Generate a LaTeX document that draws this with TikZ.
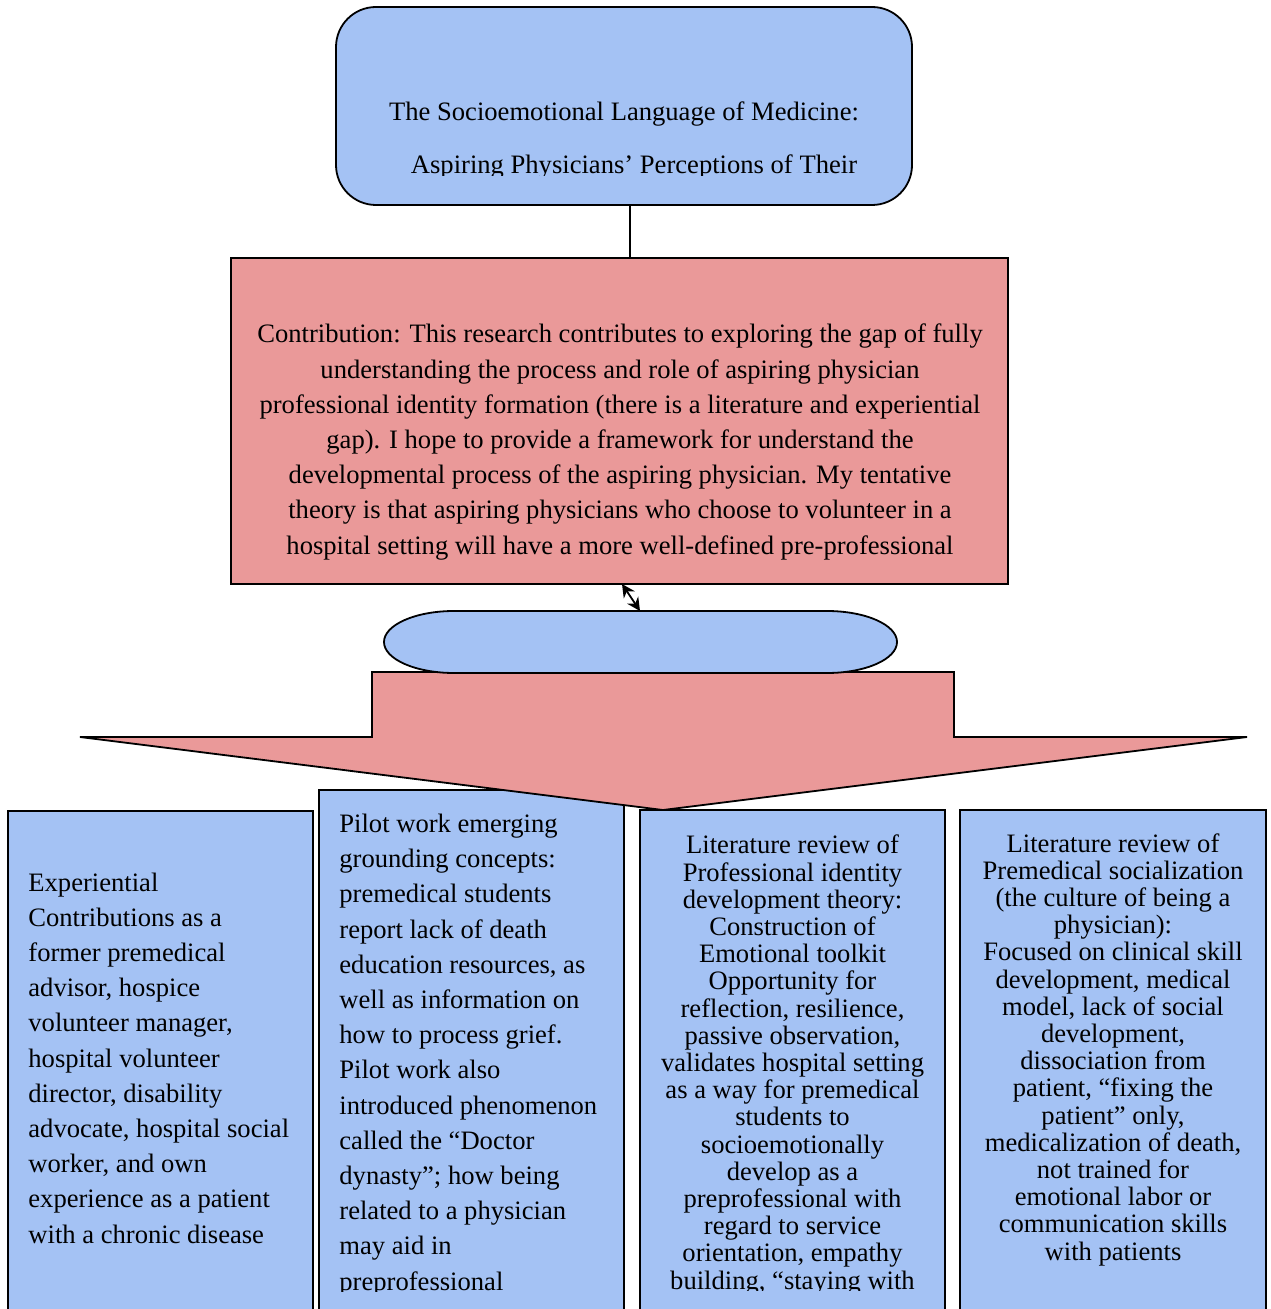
\documentclass[tikz,border=0pt]{standalone}
\usepackage{fontspec}
\setmainfont{Liberation Serif}
\usetikzlibrary{arrows.meta}
\definecolor{paleblue}{RGB}{164,194,244}
\definecolor{palered}{RGB}{234,153,153}
\newcommand{\boxcolor}{paleblue}
\newcommand{\arrowcolor}{palered}
\newcommand{\rim}{0.9pt}
\tikzset{
  bluebox/.style={draw, fill=\boxcolor, line width=\rim, outer sep=0pt, inner sep=0pt},
  redbox/.style={draw, fill=\arrowcolor, line width=\rim, outer sep=0pt, inner sep=0pt},
  txt/.style={inner sep=0pt, font=\fontsize{13.3}{17.6}\selectfont},
  tighttxt/.style={inner sep=0pt, font=\fontsize{13.3}{13.6}\selectfont, align=center, anchor=base}
}

\begin{document}
\begin{tikzpicture}[x=0.5pt,y=-0.5pt]
\useasboundingbox (0,0) rectangle (1270,1309);
%title
\node[bluebox, rounded corners=20pt, minimum width=288pt, minimum height=99pt] (title) at (624,106) {};
\begin{scope}
\clip (336,7) rectangle (912,175.5);
\node[txt, align=center, anchor=base, font=\fontsize{13.3}{26.5}\selectfont] (titletext) at (624,174) {The Socioemotional Language of Medicine:\\ \hspace*{10pt}Aspiring Physicians’ Perceptions of Their};
\end{scope}
%contribution
\node[redbox, minimum width=388.5pt, minimum height=163pt] (contrib) at (619.5,421) {};
\node[txt, align=center, anchor=base] (contribtext) at (620,554) {Contribution: This research contributes to exploring the gap of fully\\ understanding the process and role of aspiring physician\\ professional identity formation (there is a literature and experiential\\ gap). I hope to provide a framework for understand the\\ developmental process of the aspiring physician. My tentative\\ theory is that aspiring physicians who choose to volunteer in a\\ hospital setting will have a more well-defined pre-professional};
\draw[line width=\rim] ([xshift=3pt]title.south) -- ([xshift=3pt]title.south |- contrib.north);
%experience
\node[bluebox, anchor=north west, minimum width=152.5pt, minimum height=260pt] (box1) at (8,811) {};
\node[txt, align=left, anchor=base west] (box1text) at (28,1243) {Experiential\\ Contributions as a\\ former premedical\\ advisor, hospice\\ volunteer manager,\\ hospital volunteer\\ director, disability\\ advocate, hospital social\\ worker, and own\\ experience as a patient\\ with a chronic disease};
%pilot
\node[bluebox, anchor=north west, minimum width=152.5pt, minimum height=270pt] (box2) at (319,790) {};
\begin{scope}
\clip (319,790) rectangle (624,1291.5);
\node[txt, align=left, anchor=base west] (box2text) at (339,1290) {Pilot work emerging\\ grounding concepts:\\ premedical students\\ report lack of death\\ education resources, as\\ well as information on\\ how to process grief.\\ Pilot work also\\ introduced phenomenon\\ called the “Doctor\\ dynasty”; how being\\ related to a physician\\ may aid in\\ preprofessional};
\end{scope}
%identity
\node[bluebox, anchor=north west, minimum width=152.5pt, minimum height=260pt] (box3) at (640,810) {};
\begin{scope}
\clip (640,810) rectangle (945,1290.5);
\node[tighttxt] (box3text) at (792.5,1289) {Literature review of\\ Professional identity\\ development theory:\\ Construction of\\ Emotional toolkit\\ Opportunity for\\ reflection, resilience,\\ passive observation,\\ validates hospital setting\\ as a way for premedical\\ students to\\ socioemotionally\\ develop as a\\ preprofessional with\\ regard to service\\ orientation, empathy\\ building, “staying with};
\end{scope}
%socialization
\node[bluebox, anchor=north west, minimum width=153pt, minimum height=260pt] (box4) at (960,810) {};
\node[tighttxt] (box4text) at (1113,1260) {Literature review of\\ Premedical socialization\\ (the culture of being a\\ physician):\\ Focused on clinical skill\\ development, medical\\ model, lack of social\\ development,\\ dissociation from\\ patient, “fixing the\\ patient” only,\\ medicalization of death,\\ not trained for\\ emotional labor or\\ communication skills\\ with patients};
%big arrow
\draw[fill=\arrowcolor, line width=\rim, line join=miter] (372,672) -- (954,672) -- (954,737) -- (1247,737) -- (663,810) -- (80,737) -- (372,737) -- cycle;
%pill
\draw[fill=\boxcolor, line width=\rim] (454,611) -- (827,611) arc[start angle=90, end angle=-90, x radius=35pt, y radius=15.5pt] -- (454,673) arc[start angle=270, end angle=90, x radius=35pt, y radius=15.5pt] -- cycle;
\coordinate (pill) at (640,611);
\draw[{Stealth[length=6.5pt,width=6.5pt]}-{Stealth[length=6.5pt,width=6.5pt]}, line width=\rim] ([xshift=1.25pt]contrib.south) -- (pill);
\end{tikzpicture}
\end{document}
